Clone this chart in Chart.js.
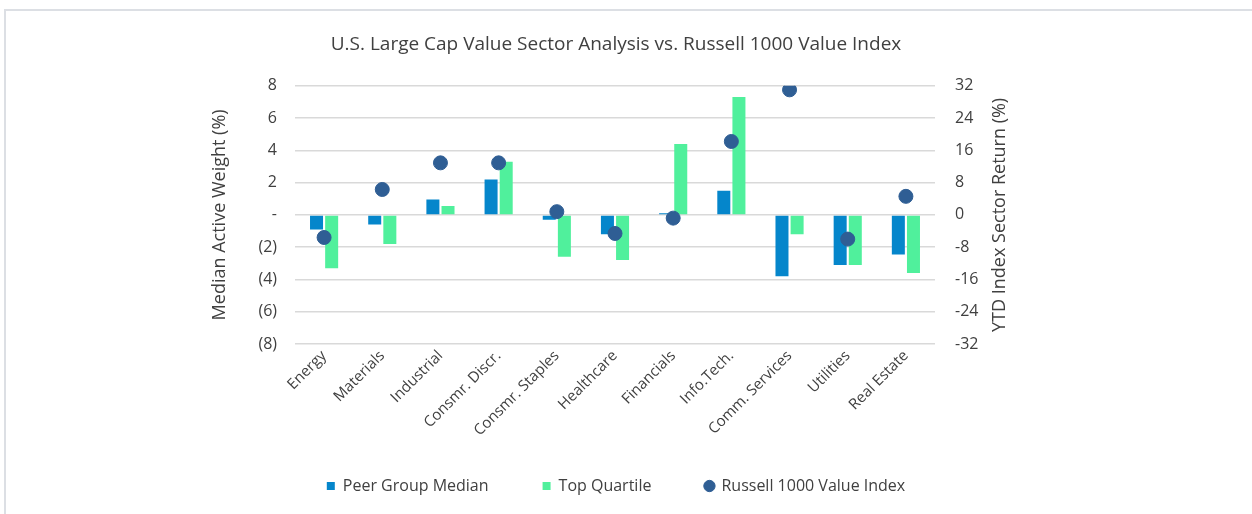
<!DOCTYPE html>
<html>
<head>
<meta charset="utf-8">
<script src="https://cdn.jsdelivr.net/npm/chart.js@4"></script>
<style>
  html, body { margin: 0; padding: 0; background: #fff; }
  #wrap { position: relative; width: 1252px; height: 514px; }
  #frame { position: absolute; left: 4px; top: 9px; right: 0; bottom: 0;
           border-top: 2px solid #dcdfe4; border-left: 2px solid #dcdfe4; }
  canvas { position: absolute; left: 0; top: 0; }
</style>
</head>
<body>
<div id="wrap">
  <div id="frame"></div>
  <canvas id="sectorChart" width="1252" height="514"></canvas>
</div>
<script>
// sector data
const sectors = ['Energy', 'Materials', 'Industrial', 'Consmr. Discr.', 'Consmr. Staples', 'Healthcare',
                 'Financials', 'Info.Tech.', 'Comm. Services', 'Utilities', 'Real Estate'];
const peerMedian = [-0.9, -0.6, 0.95, 2.2, -0.3, -1.2, 0.1, 1.5, -3.8, -3.1, -2.45];
const topQuartile = [-3.3, -1.8, 0.55, 3.3, -2.6, -2.8, 4.4, 7.3, -1.2, -3.1, -3.6];
const russellReturn = [-5.6, 6.3, 12.9, 12.9, 0.8, -4.6, -0.8, 18.2, 31, -6, 4.6];

const textColor = '#404040';
const fontFamily = '"Open Sans", Lato, sans-serif';

function weightLabel(v) {
  if (v === 0) return '-';
  if (v < 0) return '(' + (-v) + ')';
  return String(v);
}

// right axis title reads bottom-to-top like the left one
const rightTitle = {
  id: 'rightTitle',
  afterDraw(chart) {
    const c = chart.ctx;
    const area = chart.chartArea;
    c.save();
    c.translate(1000, (area.top + area.bottom) / 2);
    c.rotate(-Math.PI / 2);
    c.fillStyle = textColor;
    c.font = '18px ' + fontFamily;
    c.textAlign = 'center';
    c.textBaseline = 'middle';
    c.fillText('YTD Index Sector Return (%)', 0, 0);
    c.restore();
  }
};

const ctx = document.getElementById('sectorChart').getContext('2d');
new Chart(ctx, {
  type: 'bar',
  data: {
    labels: sectors,
    datasets: [
      {
        label: 'Peer Group Median',
        data: peerMedian,
        backgroundColor: '#0586CB',
        yAxisID: 'y',
        order: 2,
        categoryPercentage: 0.52,
        barPercentage: 0.86
      },
      {
        label: 'Top Quartile',
        data: topQuartile,
        backgroundColor: '#50F09C',
        yAxisID: 'y',
        order: 2,
        categoryPercentage: 0.52,
        barPercentage: 0.86
      },
      {
        type: 'line',
        label: 'Russell 1000 Value Index',
        data: russellReturn,
        yAxisID: 'y1',
        showLine: false,
        pointRadius: 7,
        pointHoverRadius: 7,
        pointBackgroundColor: '#2F5E94',
        pointBorderColor: '#2F5E94',
        backgroundColor: '#2F5E94',
        borderColor: '#2F5E94',
        order: 1
      }
    ]
  },
  options: {
    responsive: false,
    animation: false,
    layout: { padding: { left: 205, right: 225, top: 23, bottom: 10 } },
    plugins: {
      title: {
        display: true,
        text: 'U.S. Large Cap Value Sector Analysis vs. Russell 1000 Value Index',
        color: textColor,
        font: { family: fontFamily, size: 19, weight: 'normal' },
        padding: { top: 10, bottom: 30 }
      },
      legend: {
        position: 'bottom',
        labels: {
          color: textColor,
          font: { family: fontFamily, size: 16 },
          usePointStyle: true,
          boxWidth: 8,
          boxHeight: 8,
          padding: 0,
          sort: (a, b) => a.datasetIndex - b.datasetIndex,
          generateLabels(chart) {
            const items = Chart.defaults.plugins.legend.labels.generateLabels(chart);
            items.forEach(it => {
              it.pointStyle = it.datasetIndex === 2 ? 'circle' : 'rect';
              if (it.datasetIndex !== 2) it.text = it.text + '             ';
            });
            return items;
          }
        }
      },
      tooltip: { enabled: false }
    },
    scales: {
      x: {
        grid: { display: false, drawTicks: false },
        border: { display: false },
        ticks: {
          color: textColor,
          font: { family: fontFamily, size: 15 },
          minRotation: 45,
          maxRotation: 45,
          padding: 3
        },
        afterFit(scale) { scale.height = 134; }
      },
      y: {
        position: 'left',
        min: -8,
        max: 8,
        ticks: {
          stepSize: 2,
          color: textColor,
          font: { family: fontFamily, size: 16 },
          padding: 18,
          callback: weightLabel
        },
        grid: { color: '#d9d9d9', lineWidth: 1.5, drawTicks: false },
        border: { display: false },
        title: {
          display: true,
          text: 'Median Active Weight (%)',
          color: textColor,
          font: { family: fontFamily, size: 18 },
          padding: { bottom: 6 }
        },
        afterFit(scale) { scale.width = 90; }
      },
      y1: {
        position: 'right',
        min: -32,
        max: 32,
        ticks: {
          stepSize: 8,
          color: textColor,
          font: { family: fontFamily, size: 16 },
          padding: 20
        },
        grid: { display: false, drawTicks: false },
        border: { display: false },
        afterFit(scale) { scale.width = 92; }
      }
    }
  },
  plugins: [rightTitle]
});
</script>
</body>
</html>
